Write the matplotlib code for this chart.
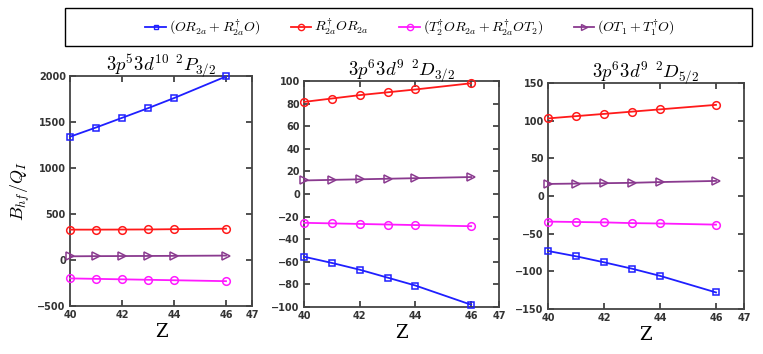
import matplotlib
matplotlib.use("Agg")
import matplotlib.pyplot as plt
from matplotlib.lines import Line2D
from matplotlib.patches import Rectangle

plt.rcParams['mathtext.fontset'] = 'cm'

Z = [40, 41, 42, 43, 44, 46]

# panel 1: 3p5 3d10 2P3/2
p1_blue = [1340, 1440, 1545, 1650, 1760, 1995]
p1_red = [330, 330, 331, 332, 335, 340]
p1_mag = [-200, -205, -210, -215, -220, -230]
p1_pur = [40, 42, 43, 44, 45, 48]

# panel 2: 3p6 3d9 2D3/2
p2_blue = [-55.5, -61, -67, -74, -81, -98]
p2_red = [81.5, 84.5, 87.5, 90, 92.5, 98]
p2_mag = [-25.5, -26, -26.5, -27, -27.5, -28.5]
p2_pur = [12, 12.5, 13, 13.5, 14, 15]

# panel 3: 3p6 3d9 2D5/2
p3_blue = [-73, -80, -88, -96.5, -106, -128]
p3_red = [103, 106, 109, 112, 115, 121]
p3_mag = [-34, -34.5, -35, -36, -36.5, -38]
p3_pur = [16, 16.5, 17, 17.5, 18.5, 20]

titles = [r'$3p^53d^{10}\ ^2P_{3/2}$', r'$3p^63d^9\ ^2D_{3/2}$', r'$3p^63d^9\ ^2D_{5/2}$']
ylims = [(-500, 2000), (-100, 100), (-150, 150)]
yticks = [range(-500, 2001, 500), range(-100, 101, 20), range(-150, 151, 50)]
xticks = [40, 42, 44, 46, 47]

labels = [r'$(OR_{2a}+R_{2a}^{\dagger}O)$', r'$R_{2a}^{\dagger}OR_{2a}$',
          r'$(T_2^{\dagger}OR_{2a}+R_{2a}^{\dagger}OT_2)$', r'$(OT_1+T_1^{\dagger}O)$']
colors = ['#1f1fff', '#ff1a1a', '#ff1aff', '#8a3a8f']
markers = ['s', 'o', 'o', '>']
msizes = [4.5, 5.5, 5.5, 5.5]

panels = [
    [p1_blue, p1_red, p1_mag, p1_pur],
    [p2_blue, p2_red, p2_mag, p2_pur],
    [p3_blue, p3_red, p3_mag, p3_pur],
]

# axes boxes in pixels: left, right, top, bottom
boxes = [(70, 252, 76, 306), (304, 499, 81, 307), (548, 744, 83, 309)]
W, H = 763, 354

fig = plt.figure(figsize=(7.63, 3.54), dpi=100)

for k in range(3):
    l, r, t, b = boxes[k]
    ax = fig.add_axes([l / W, 1 - b / H, (r - l) / W, (b - t) / H])
    for j in range(4):
        ax.plot(Z, panels[k][j], color=colors[j], marker=markers[j], ms=msizes[j],
                mfc='none', mew=1.1, lw=1.3, clip_on=False, zorder=3)
    ax.set_xlim(40, 47)
    ax.set_ylim(*ylims[k])
    ax.set_xticks(xticks)
    ax.set_yticks(list(yticks[k]))
    ax.tick_params(direction='in', length=4, width=1.2, top=True, right=True,
                   labelsize=7, colors='#333333', pad=3)
    for lab in ax.get_xticklabels() + ax.get_yticklabels():
        lab.set_fontweight('bold')
    for s in ax.spines.values():
        s.set_linewidth(1.3)
        s.set_color('#444444')
    ax.set_title(titles[k], fontsize=13.5, pad=4)
    ax.set_xlabel('Z', fontsize=13, family='serif', labelpad=2)
    if k == 0:
        ax.set_ylabel(r'$B_{hf}/Q_I$', fontsize=13, labelpad=4)

# legend box
fig.patches.append(Rectangle((65 / W, 1 - 46 / H), (752 - 65) / W, 38 / H,
                             transform=fig.transFigure, fill=False,
                             edgecolor='black', lw=1.0))
handles = [Line2D([], [], color=colors[j], marker=markers[j], ms=msizes[j] - 1,
                  mfc='none', mew=1.0, lw=1.3) for j in range(4)]
fig.legend(handles, labels, loc='center', bbox_to_anchor=(410 / W, 1 - 27 / H),
           ncol=4, frameon=False, fontsize=10, handlelength=1.5, handletextpad=0.2,
           columnspacing=2.2)

fig.savefig('out.png', dpi=100)
